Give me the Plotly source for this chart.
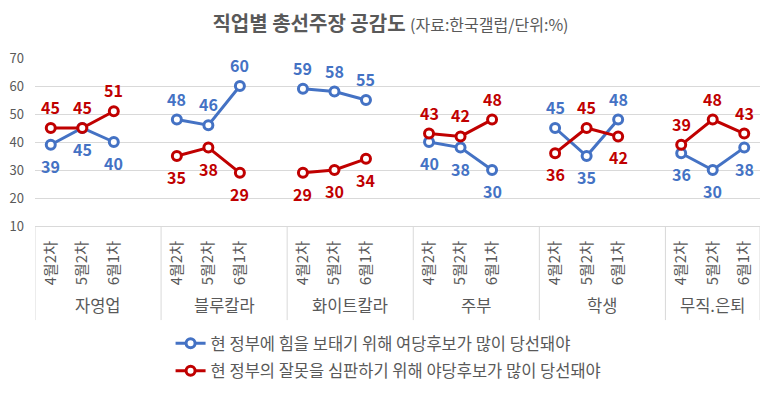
import plotly.graph_objects as go

groups = ["자영업", "블루칼라", "화이트칼라", "주부", "학생", "무직.은퇴"]
periods = ["4월2차", "5월2차", "6월1차"]

ruling = [39, 45, 40, 48, 46, 60, 59, 58, 55, 40, 38, 30, 45, 35, 48, 36, 30, 38]
opposition = [45, 45, 51, 35, 38, 29, 29, 30, 34, 43, 42, 48, 36, 45, 42, 39, 48, 43]

ruling_name = "현 정부에 힘을 보태기 위해 여당후보가 많이 당선돼야"
opposition_name = "현 정부의 잘못을 심판하기 위해 야당후보가 많이 당선돼야"

# label side (1 = above, -1 = below)
ruling_side = [-1, -1, -1, 1, 1, 1, 1, 1, 1, -1, -1, -1, 1, -1, 1, -1, -1, -1]
opposition_side = [1, 1, 1, -1, -1, -1, -1, -1, -1, 1, 1, 1, -1, 1, -1, 1, 1, 1]

BLUE = "#4472C4"
RED = "#C00000"
GREY = "#595959"
GRID = "#D9D9D9"
FONT = "Noto Sans CJK KR"

n_per = len(periods)
slot = n_per + 1
pos = [g * slot + i for g in range(len(groups)) for i in range(n_per)]


def with_gaps(values):
    xs, ys = [], []
    for g in range(len(groups)):
        for i in range(n_per):
            xs.append(g * slot + i)
            ys.append(values[g * n_per + i])
        if g < len(groups) - 1:
            xs.append(g * slot + n_per)
            ys.append(None)
    return xs, ys


fig = go.Figure()
for name, vals, color, grp in [(ruling_name, ruling, BLUE, "a"), (opposition_name, opposition, RED, "b")]:
    xs, ys = with_gaps(vals)
    fig.add_trace(go.Scatter(
        x=xs, y=ys, name=name, mode="lines+markers", connectgaps=False,
        legendgroup=grp,
        line=dict(color=color, width=3),
        marker=dict(symbol="circle", size=9, color="white", line=dict(color=color, width=3)),
        hoverinfo="y",
    ))

for vals, sides, color in [(ruling, ruling_side, BLUE), (opposition, opposition_side, RED)]:
    for xv, yv, s in zip(pos, vals, sides):
        fig.add_annotation(
            x=xv, y=yv, xref="x", yref="y", text=str(yv), showarrow=False,
            yshift=21 * s, font=dict(family=FONT, size=16, color=color, weight="bold"),
        )

x_min = -0.5
x_max = len(groups) * slot - 1 - 0.5
for g, name in enumerate(groups):
    left = g * slot - 0.5
    right = min(g * slot + n_per + 0.5, x_max)
    fig.add_annotation(
        x=(left + right) / 2, y=-0.47, xref="x", yref="paper", text=name,
        showarrow=False, yanchor="middle",
        font=dict(family=FONT, size=16.5, color=GREY),
    )
    fig.add_shape(type="line", xref="x", yref="paper", x0=left, x1=left, y0=0, y1=-0.56,
                  line=dict(color=GRID, width=1))
fig.add_shape(type="line", xref="x", yref="paper", x0=x_max, x1=x_max, y0=0, y1=-0.56,
              line=dict(color=GRID, width=1))

fig.update_layout(
    width=765, height=390,
    margin=dict(l=27, r=13, t=50, b=172, autoexpand=False),
    paper_bgcolor="white", plot_bgcolor="white",
    font=dict(family=FONT, color=GREY),
    title=dict(
        text="<b>직업별 총선주장 공감도</b> <span style='font-size:16px'>(자료:한국갤럽/단위:%)</span>",
        x=0.5, xanchor="center", y=0.959, yanchor="middle",
        font=dict(family=FONT, size=20, color=GREY),
    ),
    xaxis=dict(
        range=[x_min, x_max], tickmode="array", tickvals=pos,
        ticktext=[p for _ in groups for p in periods], tickangle=-90,
        tickfont=dict(family=FONT, size=15, color=GREY),
        showgrid=False, zeroline=False, showline=True, linecolor=GRID, linewidth=1,
        ticks="", ticklabelstandoff=8, fixedrange=True, automargin=False,
    ),
    yaxis=dict(
        range=[10, 70], tickvals=[10, 20, 30, 40, 50, 60, 70],
        tickfont=dict(family=FONT, size=13, color=GREY),
        showgrid=True, gridcolor=GRID, gridwidth=1, zeroline=False,
        showline=False, ticks="", ticklabelstandoff=10, fixedrange=True, automargin=False,
    ),
    legend=dict(
        x=0.187, xanchor="left", y=-0.595, yanchor="top",
        orientation="v", traceorder="grouped", tracegroupgap=3,
        font=dict(family=FONT, size=16.5, color=GREY),
        bgcolor="rgba(0,0,0,0)",
    ),
    showlegend=True,
)

fig.write_html("out.html")
